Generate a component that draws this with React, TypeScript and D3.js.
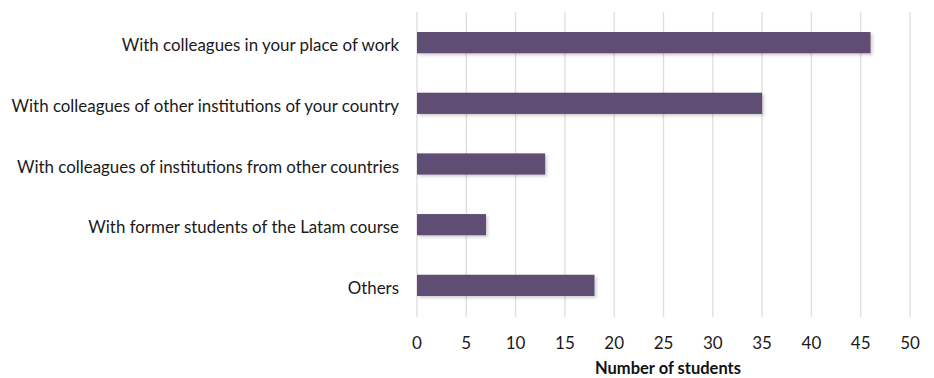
import React from "react";
import * as d3 from "d3";

const categories = [
  "With colleagues in your place of work",
  "With colleagues of other institutions of your country",
  "With colleagues of institutions from other countries",
  "With former students of the Latam course",
  "Others",
];
const values = [46, 35, 13, 7, 18];
const xTicks = [0, 5, 10, 15, 20, 25, 30, 35, 40, 45, 50];
const xTitle = "Number of students";

export default function App() {
  const W = 934, H = 378;
  const x = d3.scaleLinear().domain([0, 50]).range([417, 910]);
  const y = d3.scaleBand().domain(categories).range([12, 316]).paddingInner(0.65).paddingOuter(0.33);
  const font = "Lato, 'Open Sans', sans-serif";
  return (
    <svg width={W} height={H} style={{ position: "absolute", left: 0, top: 0, background: "#fff" }}>
      <defs>
        <filter id="sh" x="-5%" y="-30%" width="110%" height="160%">
          <feDropShadow dx="2" dy="2" stdDeviation="1.5" floodColor="#000" floodOpacity="0.18" />
        </filter>
      </defs>
      {xTicks.map((t) => (
        <line key={t} x1={x(t)} x2={x(t)} y1={12} y2={317} stroke="#dedede" strokeWidth={1.3} />
      ))}
      {categories.map((c, i) => (
        <rect key={c} x={x(0)} y={y(c)!} width={x(values[i]) - x(0)} height={y.bandwidth()} fill="#5e4e73" filter="url(#sh)" />
      ))}
      {categories.map((c) => (
        <text key={c} x={399} y={y(c)! + y.bandwidth() / 2 + 2} textAnchor="end" dominantBaseline="central" fontFamily={font} fontSize={16.9} fill="#1a1a1a">
          {c}
        </text>
      ))}
      {xTicks.map((t) => (
        <text key={t} x={x(t)} y={342} textAnchor="middle" dominantBaseline="central" fontFamily={font} fontSize={17} fill="#1a1a1a">
          {t}
        </text>
      ))}
      <text x={668} y={368} textAnchor="middle" dominantBaseline="central" fontFamily={font} fontSize={16.5} fontWeight="bold" fill="#111">
        {xTitle}
      </text>
    </svg>
  );
}
